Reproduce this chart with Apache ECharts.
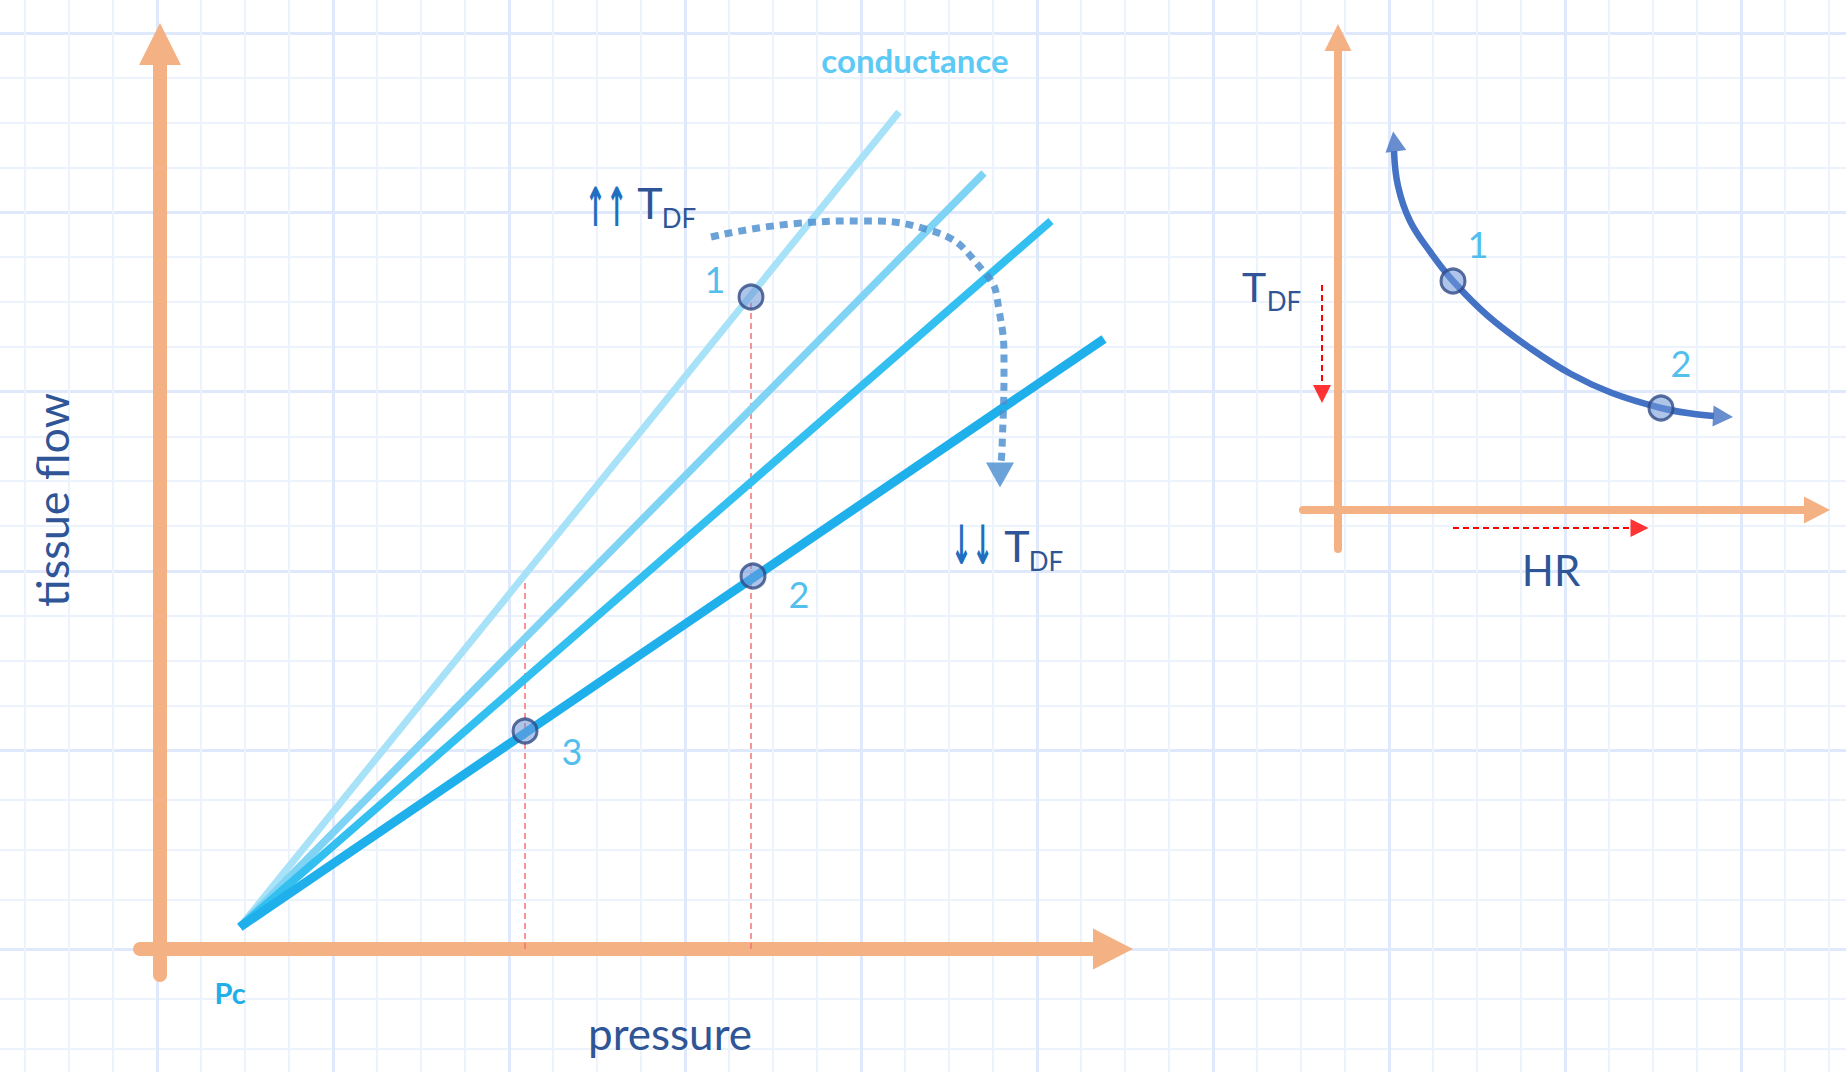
<!DOCTYPE html>
<html>
<head>
<meta charset="utf-8">
<title>Tissue flow vs pressure</title>
<script src="https://cdn.jsdelivr.net/npm/echarts@6/dist/echarts.min.js"></script>
<style>
  html, body { margin: 0; padding: 0; background: #fff; }
  #chart { width: 1846px; height: 1072px; }
</style>
</head>
<body>
<div id="chart"></div>
<script>
// ============ Data: left panel (pressure vs tissue flow) ============
const pc = [8.0, 2.2]
const conductanceEnds = [[73.9, 83.7], [82.4, 77.6], [89.1, 72.8], [94.4, 61.0]]
const pointNames = ['1', '2', '3']
const pointPressure = [59.1, 59.3, 36.5]
const pointFlow = [65.2, 37.3, 21.8]
const dropX = [36.5, 59.1]
const dropTop = [37.4, 65.2]
const arcX = [55.1, 64.2, 69.9, 76.9, 82.5, 83.9, 84.4, 84.2, 84.1]
const arcY = [71.2, 72.6, 72.8, 71.9, 67.6, 63.9, 58.2, 49.9, 48.7]
const arcHead = [84.0, 47.4]

// ============ Data: right panel (HR vs T_DF) ============
const hrX = [5.6, 6.0, 7.2, 9.3, 11.5, 15.0, 19.2, 23.3, 27.4, 32.3, 35.6, 37.6]
const tdfY = [35.9, 32.4, 28.9, 25.7, 22.9, 19.4, 16.2, 13.6, 11.7, 10.2, 9.6, 9.4]
const curveHeads = [[5.65, 36.85], [38.5, 9.35]]
const hrPointNames = ['1', '2']
const hrPointX = [11.5, 32.3]
const hrPointY = [22.9, 10.2]
const tdfShiftX = [-1.6, -1.6]
const tdfShiftY = [22.5, 12.5]
const tdfShiftHead = [-1.6, 11.6]
const hrShiftX = [11.5, 29.3]
const hrShiftY = [-1.8, -1.8]
const hrShiftHead = [30.15, -1.8]

// ============ Styles ============
const ORANGE = '#f4b183'
const NAVY = '#2f5597'
const LIGHT = '#22aee8'
const lineColors = ['#a8e2f8', '#7fd3f4', '#33c0f0', '#1fb0ec']
const lineWidths = [7, 7.5, 8, 9]
const pointLabelOffsets = [[-36, -18], [46, 18], [47, 20]]
const hrLabelOffsets = [[25, -37], [20, -45]]
const curveHeadRotate = [8, -93]

const zip = (xs, ys) => xs.map((x, i) => [x, ys[i]])

const hidden = {
  axisLabel: { show: false },
  axisTick: { show: false },
  splitLine: { show: false },
}

// graph paper background
function bgAxis(grid, max) {
  return {
    type: 'value', gridIndex: grid, min: 0, max: max, interval: 1,
    axisLine: { show: false }, axisTick: { show: false }, axisLabel: { show: false },
    splitLine: { show: true, lineStyle: { color: '#dfe9fb', width: 3 } },
    minorTick: { show: false, splitNumber: 4 },
    minorSplitLine: { show: true, lineStyle: { color: '#edf3fd', width: 2 } },
  }
}

function arrowAxis(grid, min, max, width, size) {
  return {
    type: 'value', gridIndex: grid, min: min, max: max, ...hidden,
    axisLine: {
      show: true, onZero: true,
      symbol: ['none', 'triangle'], symbolSize: size,
      lineStyle: { color: ORANGE, width: width },
    },
  }
}

const dotStyle = {
  color: 'rgba(110, 150, 215, 0.7)',
  borderColor: '#2f4a85',
  borderWidth: 3,
}

const series = [
  { type: 'scatter', xAxisIndex: 0, yAxisIndex: 0, data: [] },
  { type: 'scatter', xAxisIndex: 3, yAxisIndex: 3, data: [] },
]

// conductance lines from Pc
conductanceEnds.forEach((end, i) => {
  series.push({
    type: 'line', xAxisIndex: 1, yAxisIndex: 1, symbol: 'none', z: 3 + i,
    data: [pc, end],
    lineStyle: { color: lineColors[i], width: lineWidths[i] },
  })
})

// red drop lines
dropX.forEach((x, i) => {
  series.push({
    type: 'line', xAxisIndex: 1, yAxisIndex: 1, symbol: 'none', z: 2,
    data: [[x, 0], [x, dropTop[i]]],
    lineStyle: { color: '#f47373', width: 1.5, type: [6, 4] },
  })
})

// dotted arc with head
series.push({
  type: 'line', xAxisIndex: 1, yAxisIndex: 1, symbol: 'none', smooth: 0.5, z: 8,
  data: zip(arcX, arcY),
  lineStyle: { color: '#4a8fd0', opacity: 0.82, width: 7, type: [8, 6] },
})
series.push({
  type: 'scatter', xAxisIndex: 1, yAxisIndex: 1, z: 8,
  symbol: 'triangle', symbolSize: [28, 25], symbolRotate: 180,
  data: [arcHead],
  itemStyle: { color: '#4a8fd0', opacity: 0.82 },
})

// operating points
series.push({
  type: 'scatter', xAxisIndex: 1, yAxisIndex: 1, z: 10, symbolSize: 24,
  data: pointNames.map((n, i) => ({
    name: n, value: [pointPressure[i], pointFlow[i]],
    label: { offset: pointLabelOffsets[i] },
  })),
  itemStyle: dotStyle,
  label: { show: true, position: 'inside', formatter: '{b}', fontFamily: 'Lato', fontSize: 36, color: LIGHT },
})

// right panel curve
series.push({
  type: 'line', xAxisIndex: 2, yAxisIndex: 2, symbol: 'none', smooth: 0.4, z: 5,
  data: zip(hrX, tdfY),
  lineStyle: { color: '#4472c4', width: 6.5 },
})
series.push({
  type: 'scatter', xAxisIndex: 2, yAxisIndex: 2, z: 5,
  symbol: 'triangle', symbolSize: [21, 20],
  data: curveHeads.map((p, i) => ({ value: p, symbolRotate: curveHeadRotate[i] })),
  itemStyle: { color: '#4472c4' },
})
series.push({
  type: 'scatter', xAxisIndex: 2, yAxisIndex: 2, z: 10, symbolSize: 24,
  data: hrPointNames.map((n, i) => ({
    name: n, value: [hrPointX[i], hrPointY[i]],
    label: { offset: hrLabelOffsets[i] },
  })),
  itemStyle: dotStyle,
  label: { show: true, position: 'inside', formatter: '{b}', fontFamily: 'Lato', fontSize: 36, color: LIGHT },
})

// red shift arrows
series.push({
  type: 'line', xAxisIndex: 2, yAxisIndex: 2, symbol: 'none', z: 4,
  data: zip(tdfShiftX, tdfShiftY),
  lineStyle: { color: '#ff0000', width: 2, type: [6, 4] },
})
series.push({
  type: 'line', xAxisIndex: 2, yAxisIndex: 2, symbol: 'none', z: 4,
  data: zip(hrShiftX, hrShiftY),
  lineStyle: { color: '#ff0000', width: 2, type: [6, 4] },
})
series.push({
  type: 'scatter', xAxisIndex: 2, yAxisIndex: 2, z: 4,
  symbol: 'triangle', symbolSize: [18, 18],
  data: [
    { value: tdfShiftHead, symbolRotate: 180 },
    { value: hrShiftHead, symbolRotate: -90 },
  ],
  itemStyle: { color: '#ff0000' },
})

function label(text, x, y, size, color, extra) {
  return {
    type: 'text', x: x, y: y, z: 20, silent: true,
    ...(extra || {}),
    style: {
      text: text, fill: color, fontFamily: 'Lato', fontSize: size,
      textAlign: 'center', textVerticalAlign: 'middle',
      ...((extra && extra.style) || {}),
    },
  }
}

function arrows(text, x, y) {
  return {
    type: 'text', x: x, y: y, z: 20, silent: true, scaleX: 0.47,
    style: {
      text: text, fill: '#1f6fc1', fontFamily: 'DejaVu Sans', fontWeight: 'bold', fontSize: 54,
      textAlign: 'center', textVerticalAlign: 'middle',
    },
  }
}

const graphic = [
  label('conductance', 915, 60, 33, '#5ccaf5', { style: { fontWeight: 'bold' } }),
  arrows('↑↑', 606, 207),
  label('T', 650, 202, 43, NAVY),
  label('DF', 679, 218, 26, NAVY),
  arrows('↓↓', 972, 545),
  label('T', 1017, 545, 43, NAVY),
  label('DF', 1046, 561, 26, NAVY),
  label('Pc', 230, 992, 29, LIGHT, { style: { fontWeight: 'bold' } }),
  label('pressure', 670, 1033, 44, NAVY),
  label('tissue flow', 52, 500, 45, NAVY, { rotation: Math.PI / 2 }),
  label('T', 1254, 286, 41, NAVY),
  label('DF', 1284, 301, 26, NAVY),
  label('HR', 1551, 570, 42, NAVY),
]

const chart = echarts.init(document.getElementById('chart'), null, { renderer: 'svg' })
chart.setOption({
  animation: false,
  backgroundColor: '#ffffff',
  grid: [
    { left: -19, top: -146.3, width: 2112, height: 896.5, outerBoundsMode: 'none' },
    { left: 140, top: 44, width: 973, height: 931, outerBoundsMode: 'none' },
    { left: 1303, top: 37.5, width: 514, height: 511.5, outerBoundsMode: 'none' },
    { left: -19, top: 750.2, width: 2112, height: 398, outerBoundsMode: 'none' },
  ],
  xAxis: [
    bgAxis(0, 12),
    arrowAxis(1, -2.0, 95.3, 14, [41, 40]),
    arrowAxis(2, -3.5, 47.9, 8, [27, 26]),
    bgAxis(3, 12),
  ],
  yAxis: [
    bgAxis(0, 5),
    arrowAxis(1, -2.6, 90.5, 14, [42, 42]),
    arrowAxis(2, -3.9, 47.25, 8, [27, 27]),
    bgAxis(3, 2),
  ],
  series: series,
  graphic: graphic,
})
</script>
</body>
</html>
